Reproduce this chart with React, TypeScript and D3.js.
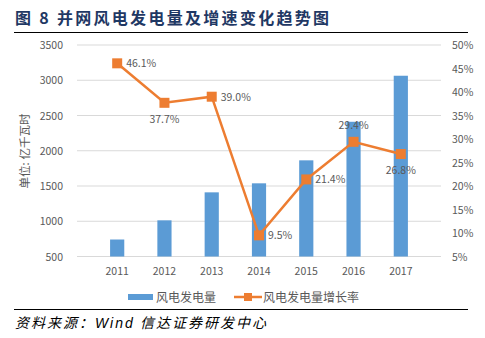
import React from "react";
import * as d3 from "d3";

const years = ["2011", "2012", "2013", "2014", "2015", "2016", "2017"];
const generation = [741, 1013, 1410, 1538, 1864, 2411, 3064];
const growth = [46.1, 37.7, 39.0, 9.5, 21.4, 29.4, 26.8];
const leftTicks = [500, 1000, 1500, 2000, 2500, 3000, 3500];
const rightTicks = [5, 10, 15, 20, 25, 30, 35, 40, 45, 50];
const labelPos = ["right", "below", "right", "right", "right", "above", "below"];

const W = 485, H = 338;
const left = 77, right = 441, top = 45, bottom = 256.5;
const font = "'Noto Sans CJK SC', 'Microsoft YaHei', sans-serif";
const gray = "#595959";
const blue = "#5B9BD5";
const orange = "#ED7D31";

export default function App() {
  const x = d3.scaleBand<string>().domain(years).range([left, right]).padding(0.7);
  const xc = (d: string) => (x(d) as number) + x.bandwidth() / 2;
  const yL = d3.scaleLinear().domain([500, 3500]).range([bottom, top]);
  const yR = d3.scaleLinear().domain([5, 50]).range([bottom, top]);
  const line = d3.line<number>().x((_, i) => xc(years[i])).y((d) => yR(d));

  return (
    <svg width={W} height={H} style={{ position: "absolute", left: 0, top: 0, background: "#fff" }}>
      <text x={15} y={24} fontFamily={font} fontWeight="bold" fontSize={16} letterSpacing={2.3} fill="#1F3864">
        图 8  并网风电发电量及增速变化趋势图
      </text>
      <line x1={14} x2={468} y1={32.5} y2={32.5} stroke="#000" strokeWidth={1.2} />

      {leftTicks.map((t) => (
        <g key={t}>
          <line x1={left} x2={right} y1={yL(t)} y2={yL(t)} stroke="#D9D9D9" strokeWidth={1} />
          <text x={63} y={yL(t) + 4} textAnchor="end" fontFamily={font} fontSize={10.5} fill={gray}>{t}</text>
        </g>
      ))}
      {rightTicks.map((t) => (
        <text key={t} x={452} y={yR(t) + 4} fontFamily={font} fontSize={10.5} fill={gray}>{t}%</text>
      ))}
      <text transform={`translate(29,${151}) rotate(-90)`} textAnchor="middle" fontFamily={font} fontSize={11.5} fill={gray}>
        单位: 亿千瓦时
      </text>

      {generation.map((v, i) => (
        <rect key={i} x={x(years[i])} y={yL(v)} width={x.bandwidth()} height={bottom - yL(v)} fill={blue} />
      ))}
      {years.map((yv) => (
        <text key={yv} x={xc(yv)} y={275} textAnchor="middle" fontFamily={font} fontSize={10.5} fill={gray}>{yv}</text>
      ))}

      <path d={line(growth) || ""} fill="none" stroke={orange} strokeWidth={2.5} />
      {growth.map((g, i) => (
        <rect key={i} x={xc(years[i]) - 5} y={yR(g) - 5} width={10} height={10} fill={orange} />
      ))}
      {growth.map((g, i) => {
        const cx = xc(years[i]);
        const cy = yR(g);
        const p = labelPos[i];
        let tx = cx + 9, ty = cy + 4, anchor = "start";
        if (p === "below") { tx = cx; ty = cy + 20; anchor = "middle"; }
        if (p === "above") { tx = cx; ty = cy - 13; anchor = "middle"; }
        return (
          <text key={i} x={tx} y={ty} textAnchor={anchor} fontFamily={font} fontSize={10.5} fill={gray}>
            {g.toFixed(1)}%
          </text>
        );
      })}

      <rect x={128} y={294} width={25} height={6} fill={blue} />
      <text x={156} y={301.5} fontFamily={font} fontSize={12} fill={gray}>风电发电量</text>
      <line x1={234} x2={262} y1={297} y2={297} stroke={orange} strokeWidth={2.5} />
      <rect x={244} y={293} width={8} height={8} fill={orange} />
      <text x={263} y={301.5} fontFamily={font} fontSize={12} fill={gray}>风电发电量增长率</text>

      <line x1={14} x2={468} y1={309.5} y2={309.5} stroke="#000" strokeWidth={1.2} />
      <text x={15} y={328} fontFamily={font} fontStyle="italic" fontSize={14} letterSpacing={2} fill="#000">
        资料来源：<tspan fontFamily="'Liberation Sans', Arial, sans-serif">Wind</tspan>  信达证券研发中心
      </text>
    </svg>
  );
}
